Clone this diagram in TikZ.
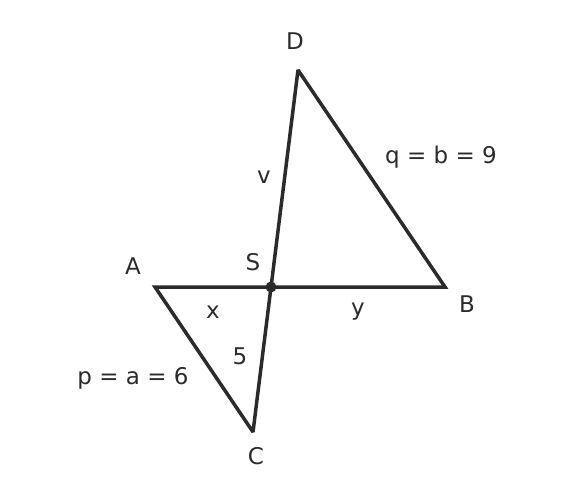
\documentclass[tikz,border=0pt]{standalone}
\usepackage{fontspec}
\setmainfont{DejaVu Sans}
\definecolor{ink}{HTML}{2B2B2B}
\begin{document}
\begin{tikzpicture}[x=1pt,y=-1pt,
  edge/.style={draw=ink,line width=3.5pt,line join=miter,miter limit=2.5,line cap=butt},
  lbl/.style={text=ink,font=\fontsize{23}{27}\selectfont,inner sep=0pt,anchor=center}]
\useasboundingbox (0,0) rectangle (576,503);
\coordinate (A) at (155,287);
\coordinate (B) at (445,287);
\coordinate (S) at (271,287);
\coordinate (D) at (298,70);
\coordinate (C) at (253,432);
\draw[edge] (A) -- (B) -- (D) -- (C) -- cycle;
\fill[ink] (S) circle (5.5);
\node[lbl] (lD) at (295,41) {D};
\node[lbl] (lA) at (133,266) {A};
\node[lbl] (lS) at (253,262) {S};
\node[lbl] (lB) at (467,304) {B};
\node[lbl] (lC) at (256,456) {C};
\node[lbl] (lv) at (264,177) {v};
\node[lbl] (lx) at (213,312) {x};
\node[lbl] (ly) at (358,312) {y};
\node[lbl] (l5) at (240,356) {5};
\node[lbl] (lp) at (133,378) {p = a = 6};
\node[lbl] (lq) at (441,157) {q = b = 9};
\end{tikzpicture}
\end{document}
